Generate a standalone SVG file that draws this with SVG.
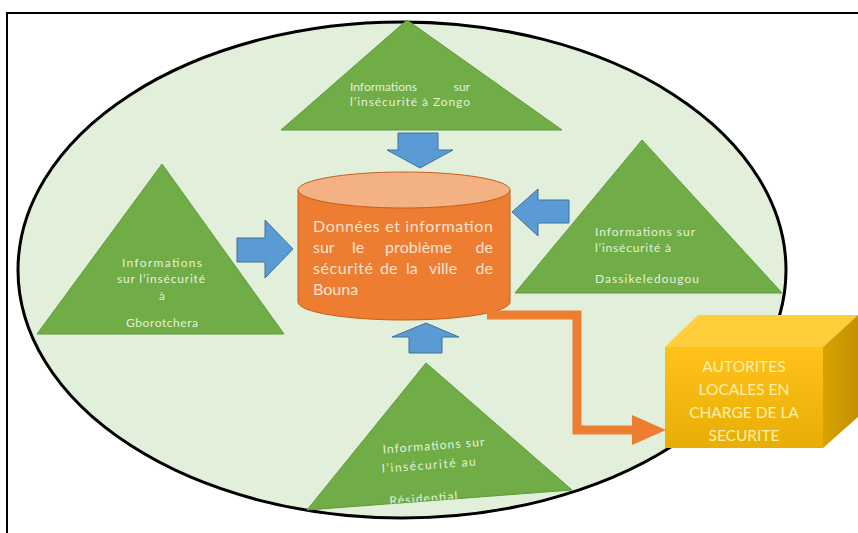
<svg xmlns="http://www.w3.org/2000/svg" width="858" height="533" viewBox="0 0 858 533">
<style>
.tri{fill:#70AD47;stroke:#5f9a3c;stroke-width:1}
.tt{font-family:Lato,"Open Sans","Liberation Sans",sans-serif;font-size:12px;fill:#E4F0DA}
.ct{font-family:Lato,"Open Sans","Liberation Sans",sans-serif;font-size:16px;fill:#FBE3D2}
.bt{font-family:Lato,"Open Sans","Liberation Sans",sans-serif;font-size:15.5px;fill:#FFF0A8;text-anchor:middle}
.blue{fill:#5B9BD5;stroke:#41719C;stroke-width:1}
</style>
<defs>
<clipPath id="botclip"><polygon points="426,363 307,510 572,490"/></clipPath>
<linearGradient id="front" x1="0" y1="0" x2="0" y2="1">
<stop offset="0" stop-color="#FFC21A"/><stop offset="1" stop-color="#E8AE06"/>
</linearGradient>
<linearGradient id="side" x1="0" y1="0" x2="1" y2="0">
<stop offset="0" stop-color="#D9A200"/><stop offset="1" stop-color="#C39000"/>
</linearGradient>
</defs>
<rect width="858" height="533" fill="#fff"/>
<path d="M7,533 V13 H858" fill="none" stroke="#000" stroke-width="2"/>
<ellipse cx="402" cy="270" rx="384" ry="248" fill="#E2EFDA" stroke="#000" stroke-width="3"/>

<g id="zongo">
<polygon class="tri" points="407,20 281,130 562,130"/>
<text class="tt" x="350" y="91">Informations</text>
<text class="tt" x="470" y="91" text-anchor="end">sur</text>
<text class="tt" x="350" y="106" textLength="120" lengthAdjust="spacing">l’insécurité à Zongo</text>
</g>

<g id="gborotchera">
<polygon class="tri" points="162,164 37,334 284,334"/>
<g text-anchor="middle">
<text class="tt" x="162" y="267" textLength="80" lengthAdjust="spacing">Informations</text>
<text class="tt" x="161" y="283" textLength="88" lengthAdjust="spacing">sur l’insécurité</text>
<text class="tt" x="162" y="300">à</text>
<text class="tt" x="162" y="327" textLength="72" lengthAdjust="spacing">Gborotchera</text>
</g>
</g>

<g id="dassikeledougou">
<polygon class="tri" points="642,140 515,293 782,293"/>
<text class="tt" x="595" y="236" textLength="100" lengthAdjust="spacing">Informations sur</text>
<text class="tt" x="595" y="252" textLength="76" lengthAdjust="spacing">l’insécurité à</text>
<text class="tt" x="595" y="283" textLength="104" lengthAdjust="spacing">Dassikeledougou</text>
</g>

<g id="residential">
<polygon class="tri" points="426,363 307,510 572,490"/>
<g clip-path="url(#botclip)">
<g transform="rotate(-4.3 430 440)">
<text class="tt" x="382" y="450" textLength="102" lengthAdjust="spacing">Informations sur</text>
<text class="tt" x="380" y="469" textLength="94" lengthAdjust="spacing">l’insécurité au</text>
<text class="tt" x="385" y="502" textLength="68" lengthAdjust="spacing">Résidential</text>
</g>
</g>
</g>

<g id="bouna">
<path d="M298,190 V302 A106,18 0 0 0 510,302 V190 Z" fill="#ED7D31" stroke="#C65F1B" stroke-width="1"/>
<ellipse cx="404" cy="190" rx="106" ry="18" fill="#F4B183" stroke="#C65F1B" stroke-width="1"/>
<text class="ct" x="313" y="232" textLength="180" lengthAdjust="spacing">Données et information</text>
<text class="ct" x="313" y="253">sur</text>
<text class="ct" x="352" y="253">le</text>
<text class="ct" x="385" y="253" textLength="67" lengthAdjust="spacing">problème</text>
<text class="ct" x="493" y="253" text-anchor="end">de</text>
<text class="ct" x="313" y="274" textLength="60" lengthAdjust="spacing">sécurité</text>
<text class="ct" x="380" y="274">de</text>
<text class="ct" x="406" y="274">la</text>
<text class="ct" x="429" y="274">ville</text>
<text class="ct" x="493" y="274" text-anchor="end">de</text>
<text class="ct" x="313" y="295">Bouna</text>
</g>

<g id="autorites">
<polygon points="665,347 698,315 858,315 823,347" fill="#FFCE3A"/>
<polygon points="823,347 858,315 858,417 823,448" fill="url(#side)"/>
<rect x="665" y="347" width="158" height="101" fill="url(#front)"/>
<text class="bt" x="744" y="372">AUTORITES</text>
<text class="bt" x="744" y="395">LOCALES EN</text>
<text class="bt" x="744" y="418">CHARGE DE LA</text>
<text class="bt" x="744" y="441">SECURITE</text>
</g>

<g id="connectors">
<polygon class="blue" points="398,133 438,133 438,150 453,150 420,168 387,150 398,150"/>
<polygon class="blue" points="237,238 265,238 265,220 293,249 265,278 265,262 237,262"/>
<polygon class="blue" points="569,200 538,200 538,189 512,212 538,236 538,223 569,223"/>
<polygon class="blue" points="409,353 442,353 442,337 459,337 426,323 392,337 409,337"/>
<polyline points="487,315 577,315 577,430 636,430" fill="none" stroke="#ED7D31" stroke-width="9"/>
<polygon points="632,415 666,430 632,445" fill="#ED7D31"/>
</g>
</svg>
